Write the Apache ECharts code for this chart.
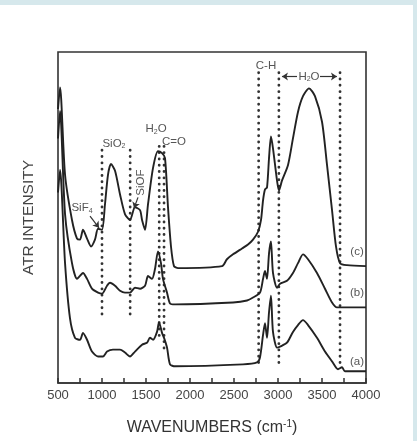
<!DOCTYPE html>
<html>
<head>
<meta charset="utf-8">
<script src="https://cdn.jsdelivr.net/npm/echarts@6/dist/echarts.min.js"></script>
<style>
  html, body { margin: 0; padding: 0; background: #d6e8ec; }
  #main { width: 417px; height: 441px; }
</style>
</head>
<body>
<div id="main"></div>
<script>
// spectra: [wavenumber, intensity (arb.)]
var curveC = [[500,279],[523,301],[580,212],[659,166],[716,147],[750,146],[784,156],[830,147],[875,139],[920,146],[955,157],[1000,156],[1034,182],[1068,212],[1102,223],[1148,216],[1205,192],[1261,172],[1318,166],[1375,179],[1432,176],[1455,166],[1489,156],[1523,182],[1580,219],[1636,236],[1682,234],[1716,229],[1750,179],[1784,139],[1818,119],[1864,117],[2364,119],[2420,126],[2489,131],[2591,137],[2659,141],[2716,146],[2773,154],[2807,166],[2830,186],[2852,197],[2875,199],[2898,229],[2920,251],[2943,239],[2989,206],[3011,196],[3045,206],[3114,222],[3170,249],[3227,276],[3284,292],[3352,300],[3420,292],[3500,266],[3557,222],[3614,176],[3659,139],[3705,122],[3784,120],[4000,119]];
var curveB = [[500,249],[523,277],[580,172],[659,122],[716,106],[750,109],[784,112],[830,106],[886,96],[955,92],[1000,91],[1057,99],[1091,102],[1148,99],[1205,94],[1261,92],[1318,92],[1375,97],[1432,96],[1489,99],[1523,109],[1568,106],[1602,116],[1636,134],[1670,122],[1693,106],[1739,92],[1773,81],[1830,80],[2489,82],[2648,84],[2716,87],[2795,92],[2830,106],[2852,114],[2875,106],[2898,132],[2920,144],[2943,112],[2989,97],[3023,101],[3102,104],[3170,112],[3227,122],[3284,131],[3341,126],[3443,112],[3534,96],[3614,82],[3670,77],[4000,77]];
var curveA = [[500,194],[523,217],[580,122],[636,66],[693,46],[750,44],[784,51],[830,44],[886,32],[955,27],[1011,27],[1057,32],[1125,34],[1205,34],[1261,31],[1318,27],[1375,32],[1455,39],[1511,41],[1545,46],[1580,44],[1625,52],[1648,62],[1682,51],[1705,46],[1739,36],[1773,19],[1830,17],[2602,19],[2761,21],[2795,26],[2830,49],[2852,61],[2875,46],[2898,72],[2920,89],[2943,52],[2989,36],[3023,37],[3102,41],[3170,52],[3227,59],[3284,64],[3341,59],[3443,46],[3534,32],[3614,22],[3682,14],[3727,16],[3761,12],[4000,12]];

// dotted guide lines: wavenumber, top, bottom
var guideX = [1000, 1320, 1650, 1705, 2780, 3010, 3705];
var guideTop = [237, 237, 241, 241, 316, 316, 316];
var guideBottom = [66, 66, 44, 31, 16, 16, 19];

var xTicks = [500, 1000, 1500, 2000, 2500, 3000, 3500, 4000];

// annotations: text, wavenumber, intensity, rotation
var notes = [
  ['{t|SiO}{s|2}', 1136, 244, 0],
  ['{t|SiF}{s|4}', 773, 178, 0],
  ['{t|SiOF}', 1443, 204, 90],
  ['{t|H}{s|2}{t|O}', 1614, 259, 0],
  ['{t|C=O}', 1818, 246, 0],
  ['{t|C-H}', 2864, 323, 0],
  ['{t|H}{s|2}{t|O}', 3352, 312, 0],
  ['{t|(c)}', 3898, 134, 0],
  ['{t|(b)}', 3898, 92, 0],
  ['{t|(a)}', 3898, 22, 0]
];
// arrows: from [wn, y] to [wn, y]
var arrows = [
  [[864, 170], [966, 158]],
  [[1409, 189], [1364, 178]],
  [[3216, 312], [3045, 312]],
  [[3477, 312], [3670, 312]]
];

var dom = document.getElementById('main');
var myChart = echarts.init(dom);

var font = '"Liberation Sans", Arial, sans-serif';
var series = [];
[curveC, curveB, curveA].forEach(function (d) {
  series.push({
    type: 'line', data: d, showSymbol: false, smooth: 0.25,
    lineStyle: { color: '#222', width: 1.9 }, silent: true, z: 3
  });
});
guideX.forEach(function (x, i) {
  series.push({
    type: 'line', data: [[x, guideTop[i]], [x, guideBottom[i]]], showSymbol: false,
    lineStyle: { color: '#333', width: 2.8, type: [0.1, 6.2], cap: 'round' }, silent: true, z: 2
  });
});
series.push({
  type: 'line', data: [], silent: true,
  markPoint: {
    symbol: 'circle', symbolSize: 0,
    data: notes.map(function (n) {
      return {
        coord: [n[1], n[2]], value: n[0],
        label: { rotate: n[3] }
      };
    }),
    label: {
      show: true, position: 'inside',
      formatter: function (p) { return p.value; },
      rich: {
        t: { fontFamily: font, fontSize: 11.5, color: '#555' },
        s: { fontFamily: font, fontSize: 7, color: '#555', padding: [6, 0, 0, 0] }
      }
    }
  },
  markLine: {
    silent: true, symbol: ['none', 'arrow'], symbolSize: 6,
    label: { show: false },
    lineStyle: { color: '#333', width: 1.2, type: 'solid' },
    data: arrows.map(function (a) {
      return [{ coord: a[0] }, { coord: a[1] }];
    })
  }
});

var Option = {
  backgroundColor: '#d6e8ec',
  animation: false,
  graphic: [{
    type: 'rect', z: -10, silent: true,
    shape: { x: 0, y: 5, width: 413, height: 436 },
    style: { fill: '#ffffff' }
  }],
  grid: {
    left: 58, top: 52, width: 308, height: 337,
    show: true, borderColor: '#333', borderWidth: 1.6, backgroundColor: 'transparent'
  },
  xAxis: {
    type: 'value', min: 500, max: 4000, interval: 500,
    name: '{t|WAVENUMBERS (cm}{s|-1}{t|)}',
    nameLocation: 'middle', nameGap: 36,
    nameTextStyle: {
      rich: {
        t: { fontFamily: font, fontSize: 16, color: '#333' },
        s: { fontFamily: font, fontSize: 10, color: '#333', padding: [0, 0, 8, 0] }
      }
    },
    axisLine: { show: true, lineStyle: { color: '#333', width: 1.6 } },
    axisTick: { show: true, inside: true, length: 5, lineStyle: { color: '#333', width: 1.5 } },
    minorTick: { show: true, splitNumber: 2, length: 5, lineStyle: { color: '#333', width: 1.5 } },
    splitLine: { show: false },
    axisLabel: {
      margin: 6, fontFamily: font, fontSize: 13, color: '#444',
      formatter: function (v) { return xTicks.indexOf(v) >= 0 ? String(v) : ''; }
    }
  },
  yAxis: {
    type: 'value', min: 0, max: 337,
    name: 'ATR INTENSITY', nameLocation: 'middle', nameGap: 21, nameRotate: 90,
    nameTextStyle: { fontFamily: font, fontSize: 15.5, color: '#444' },
    axisLine: { show: false }, axisTick: { show: false },
    axisLabel: { show: false }, splitLine: { show: false }
  },
  series: series
};
myChart.setOption(Option);
</script>
</body>
</html>
